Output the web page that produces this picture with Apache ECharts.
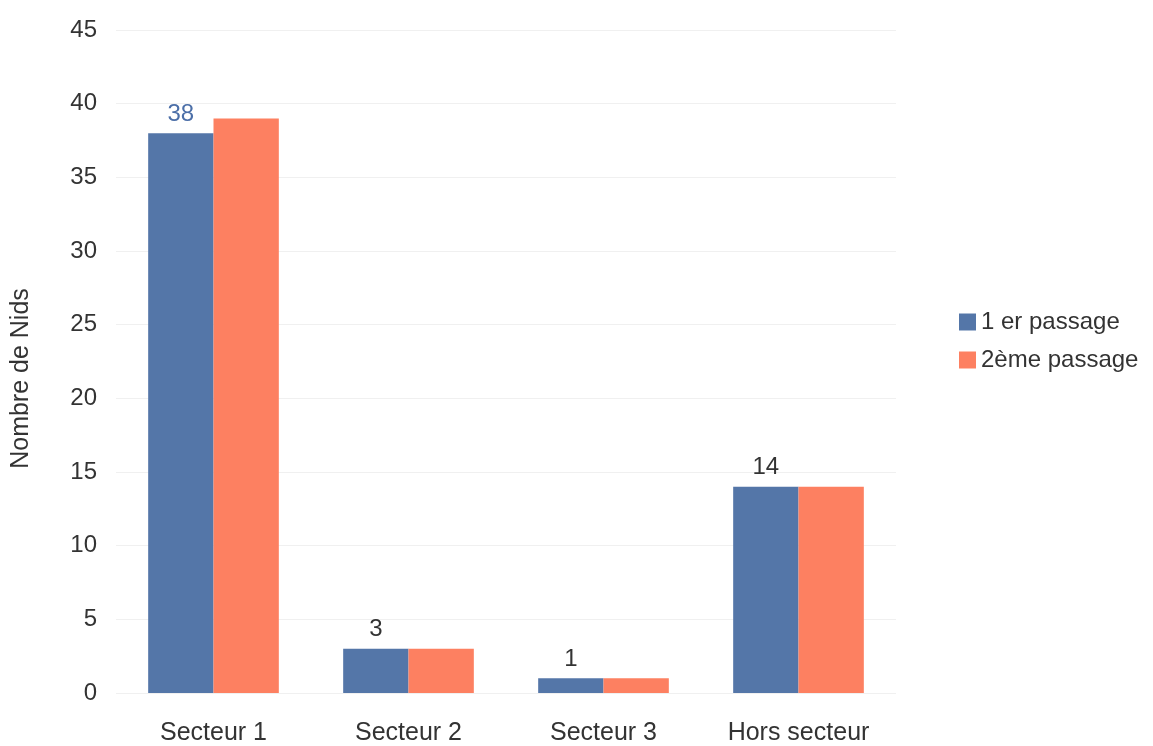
<!DOCTYPE html>
<html><head><meta charset="utf-8">
<script src="https://cdn.jsdelivr.net/npm/echarts@6/dist/echarts.min.js"></script>
<style>html,body{margin:0;padding:0;background:#fff}#c{width:1153px;height:746px}</style>
</head><body><div id="c"></div>
<script>
const categories = ['Secteur 1', 'Secteur 2', 'Secteur 3', 'Hors secteur'];
const passage1 = [38, 3, 1, 14];
const passage2 = [39, 3, 1, 14];
const seriesNames = ['1 er passage', '2ème passage'];

const chart = echarts.init(document.getElementById('c'));
chart.setOption({
  animation: false,
  textStyle: { fontFamily: 'Liberation Sans, Arial, sans-serif' },
  grid: { left: 116, right: 257, top: 30, bottom: 53 },
  legend: {
    orient: 'vertical', left: 954, top: 305,
    itemWidth: 17, itemHeight: 17, itemGap: 14,
    icon: 'rect',
    textStyle: { fontSize: 24, color: '#333' },
    data: seriesNames
  },
  xAxis: {
    type: 'category', data: categories,
    axisLine: { show: false }, axisTick: { show: false },
    axisLabel: { fontSize: 25, color: '#333', margin: 28 }
  },
  yAxis: {
    type: 'value', min: 0, max: 45, interval: 5,
    name: 'Nombre de Nids', nameLocation: 'middle', nameGap: 82,
    nameTextStyle: { fontSize: 25, color: '#333', padding: [0, 34, 0, 0] },
    axisLine: { show: false }, axisTick: { show: false },
    axisLabel: { fontSize: 24, color: '#333', margin: 19 },
    splitLine: { lineStyle: { color: '#f0f0f0' } }
  },
  series: [
    {
      name: seriesNames[0], type: 'bar',
      data: passage1.map((v, i) => i === 0 ? { value: v, label: { color: '#4c6fa8' } } : v),
      barGap: '0%', barCategoryGap: '33%',
      itemStyle: { color: '#5476a8' },
      label: { show: true, position: 'top', fontSize: 24, color: '#333', distance: 7 }
    },
    {
      name: seriesNames[1], type: 'bar', data: passage2,
      itemStyle: { color: '#fd8061' }
    }
  ]
});
</script></body></html>
